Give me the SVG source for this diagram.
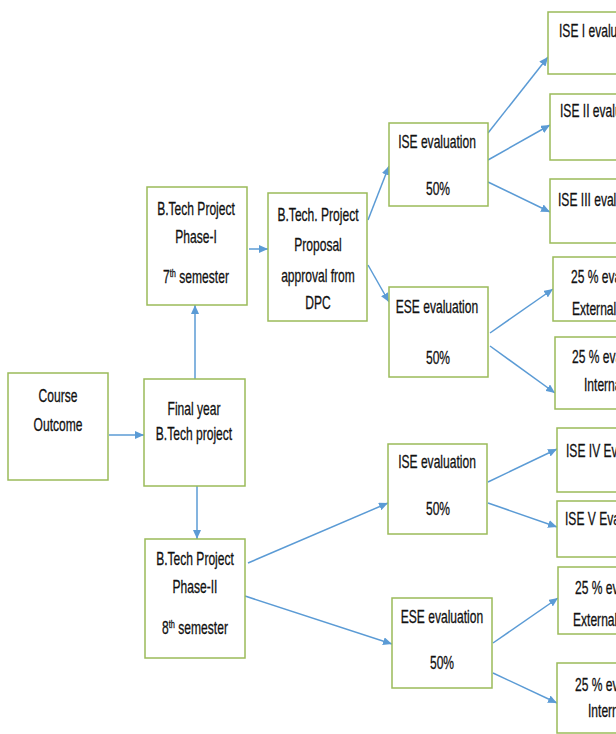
<svg xmlns="http://www.w3.org/2000/svg" width="616" height="734" viewBox="0 0 616 734">
<style>
.box{fill:#fff;stroke:#9bbb59;stroke-width:1.5}
.t{font-family:"Liberation Sans",Arial,sans-serif;font-size:18px;fill:#111;stroke:#111;stroke-width:0.3}
.c{text-anchor:middle}
.con line{stroke:#5b9bd5;stroke-width:1.5;fill:none}
</style>
<defs>
<marker id="ah" markerUnits="userSpaceOnUse" markerWidth="9" markerHeight="8" refX="9" refY="4" orient="auto">
<path d="M0,0 L9,4 L0,8 Z" fill="#5b9bd5"/>
</marker>
</defs>
<rect width="616" height="734" fill="#fff"/>
<g class="con">
<line x1="109" y1="435" x2="144" y2="435" marker-end="url(#ah)"/>
<line x1="195" y1="379" x2="195" y2="305" marker-end="url(#ah)"/>
<line x1="197" y1="486" x2="197" y2="539" marker-end="url(#ah)"/>
<line x1="249" y1="249" x2="268" y2="249" marker-end="url(#ah)"/>
<line x1="368" y1="220" x2="389" y2="166" marker-end="url(#ah)"/>
<line x1="368" y1="265" x2="389" y2="302" marker-end="url(#ah)"/>
<line x1="488" y1="133" x2="548" y2="57" marker-end="url(#ah)"/>
<line x1="488" y1="160" x2="550" y2="125" marker-end="url(#ah)"/>
<line x1="488" y1="182" x2="550" y2="212" marker-end="url(#ah)"/>
<line x1="490" y1="333" x2="553" y2="289" marker-end="url(#ah)"/>
<line x1="490" y1="346" x2="555" y2="393" marker-end="url(#ah)"/>
<line x1="248" y1="563" x2="388" y2="503" marker-end="url(#ah)"/>
<line x1="245" y1="596" x2="392" y2="644" marker-end="url(#ah)"/>
<line x1="488" y1="482" x2="557" y2="449" marker-end="url(#ah)"/>
<line x1="488" y1="503" x2="557" y2="527" marker-end="url(#ah)"/>
<line x1="493" y1="643" x2="558" y2="598" marker-end="url(#ah)"/>
<line x1="493" y1="673" x2="557" y2="703" marker-end="url(#ah)"/>
</g>
<g id="course">
<rect class="box" x="8" y="373" width="100" height="107"/>
<text class="t c" transform="translate(58,402) scale(0.67,1)">Course</text>
<text class="t c" transform="translate(58,431) scale(0.67,1)">Outcome</text>
</g>
<g id="final">
<rect class="box" x="144" y="379" width="101" height="107"/>
<text class="t c" transform="translate(194,415) scale(0.67,1)">Final year</text>
<text class="t c" transform="translate(194,440) scale(0.67,1)">B.Tech project</text>
</g>
<g id="phase1">
<rect class="box" x="147" y="187" width="100" height="118"/>
<text class="t c" transform="translate(196,215) scale(0.67,1)">B.Tech Project</text>
<text class="t c" transform="translate(196,243) scale(0.67,1)">Phase-I</text>
<text class="t c" transform="translate(196,283) scale(0.67,1)">7<tspan font-size="11" dy="-6">th</tspan><tspan dy="6"> semester</tspan></text>
</g>
<g id="proposal">
<rect class="box" x="268" y="193" width="99" height="128"/>
<text class="t c" transform="translate(318,221) scale(0.67,1)">B.Tech. Project</text>
<text class="t c" transform="translate(318,251) scale(0.67,1)">Proposal</text>
<text class="t c" transform="translate(318,282) scale(0.67,1)">approval from</text>
<text class="t c" transform="translate(318,309) scale(0.67,1)">DPC</text>
</g>
<g id="ise_up">
<rect class="box" x="389" y="123" width="99" height="83"/>
<text class="t c" transform="translate(437,148) scale(0.67,1)">ISE evaluation</text>
<text class="t c" transform="translate(438,195) scale(0.67,1)">50%</text>
</g>
<g id="ese_up">
<rect class="box" x="389" y="287" width="99" height="90"/>
<text class="t c" transform="translate(437,313) scale(0.67,1)">ESE evaluation</text>
<text class="t c" transform="translate(438,364) scale(0.67,1)">50%</text>
</g>
<g id="phase2">
<rect class="box" x="145" y="539" width="100" height="119"/>
<text class="t c" transform="translate(195,565) scale(0.67,1)">B.Tech Project</text>
<text class="t c" transform="translate(195,593) scale(0.67,1)">Phase-II</text>
<text class="t c" transform="translate(195,634) scale(0.67,1)">8<tspan font-size="11" dy="-6">th</tspan><tspan dy="6"> semester</tspan></text>
</g>
<g id="ise_low">
<rect class="box" x="388" y="444" width="99" height="90"/>
<text class="t c" transform="translate(437,468) scale(0.67,1)">ISE evaluation</text>
<text class="t c" transform="translate(438,515) scale(0.67,1)">50%</text>
</g>
<g id="ese_low">
<rect class="box" x="392" y="598" width="100" height="90"/>
<text class="t c" transform="translate(442,623) scale(0.67,1)">ESE evaluation</text>
<text class="t c" transform="translate(442,669) scale(0.67,1)">50%</text>
</g>
<g id="ise1">
<rect class="box" x="548" y="12" width="100" height="62"/>
<text class="t" transform="translate(559,37) scale(0.67,1)">ISE I evaluation</text>
</g>
<g id="ise2">
<rect class="box" x="550" y="94" width="100" height="66"/>
<text class="t" transform="translate(560,117) scale(0.67,1)">ISE II evaluation</text>
</g>
<g id="ise3">
<rect class="box" x="550" y="179" width="100" height="64"/>
<text class="t" transform="translate(558,206) scale(0.67,1)">ISE III evaluation</text>
</g>
<g id="ext_up">
<rect class="box" x="553" y="257" width="100" height="64"/>
<text class="t" transform="translate(571,283) scale(0.67,1)">25 % evaluation</text>
<text class="t" transform="translate(572,315) scale(0.67,1)">External</text>
</g>
<g id="int_up">
<rect class="box" x="555" y="337" width="100" height="72"/>
<text class="t" transform="translate(572,363) scale(0.67,1)">25 % evaluation</text>
<text class="t" transform="translate(584,391) scale(0.67,1)">Internal</text>
</g>
<g id="ise4">
<rect class="box" x="557" y="428" width="100" height="64"/>
<text class="t" transform="translate(566,457) scale(0.67,1)">ISE IV Evaluation</text>
</g>
<g id="ise5">
<rect class="box" x="557" y="501" width="100" height="56"/>
<text class="t" transform="translate(565,525) scale(0.67,1)">ISE V Evaluation</text>
</g>
<g id="ext_low">
<rect class="box" x="558" y="567" width="100" height="67"/>
<text class="t" transform="translate(575,594) scale(0.67,1)">25 % evaluation</text>
<text class="t" transform="translate(573,626) scale(0.67,1)">External</text>
</g>
<g id="int_low">
<rect class="box" x="557" y="663" width="100" height="70"/>
<text class="t" transform="translate(575,691) scale(0.67,1)">25 % evaluation</text>
<text class="t" transform="translate(588,717) scale(0.67,1)">Internal</text>
</g>
</svg>
